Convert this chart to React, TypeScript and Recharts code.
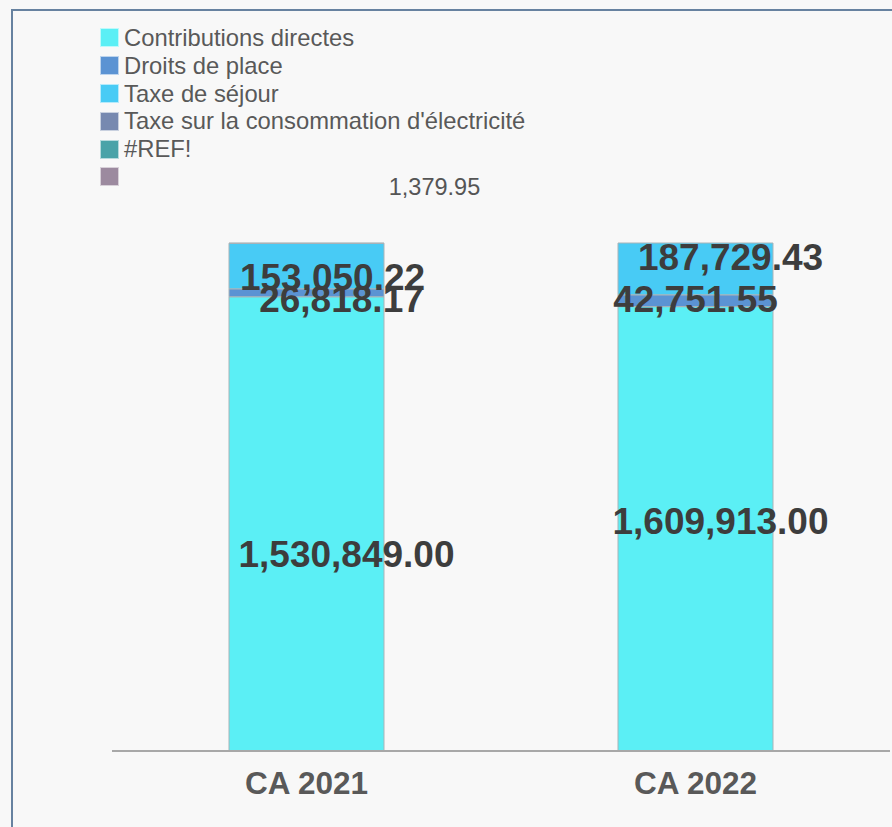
import React from 'react';
import { BarChart, Bar, XAxis, YAxis, LabelList } from 'recharts';

// values (null = no value in the sheet)
const CATEGORIES = ['CA 2021', 'CA 2022'];
const CONTRIBUTIONS = [1530849.0, 1609913.0];
const DROITS_PLACE = [26818.17, 42751.55];
const TAXE_SEJOUR = [153050.22, 187729.43];
const TAXE_ELEC = [1379.95, null];
const REF_ERR = [null, null];
const BLANK = [null, null];

// note: don't use "ref" as a data key, recharts spreads the row into element props
const SERIES = [
  { key: 'contrib', name: 'Contributions directes', color: '#5beff5', values: CONTRIBUTIONS },
  { key: 'droits', name: 'Droits de place', color: '#5b93d3', values: DROITS_PLACE },
  { key: 'sejour', name: 'Taxe de séjour', color: '#48cbf5', values: TAXE_SEJOUR },
  { key: 'elec', name: "Taxe sur la consommation d'électricité", color: '#7789b0', values: TAXE_ELEC },
  { key: 'refErr', name: '#REF!', color: '#4aa3a8', values: REF_ERR },
  { key: 'blank', name: '', color: '#9c8a9f', values: BLANK },
];

const data = CATEGORIES.map((name, i) => {
  const row: Record<string, string | number> = { name };
  SERIES.forEach((s) => {
    row[s.key] = s.values[i] ?? 0;
  });
  return row;
});

// hand-placed label nudges (the labels in the original were dragged around)
const NUDGE: Record<string, [number, number][]> = {
  contrib: [[40, 31], [25, -7]],
  droits: [[35, 7], [0, -1]],
  sejour: [[26, 11], [35, -11]],
  elec: [[128, -56], [0, 0]],
};

const FONT = '"Liberation Sans", Arial, sans-serif';

const fmt = (v: number) =>
  v.toLocaleString('en-US', { minimumFractionDigits: 2, maximumFractionDigits: 2 });

const makeLabel = (key: string, values: (number | null)[]) => (props: any) => {
  const { x, y, width, height, index } = props;
  const raw = values[index];
  if (raw == null) return null;
  const [dx, dy] = (NUDGE[key] || [])[index] || [0, 0];
  const small = key === 'elec';
  return (
    <text
      x={Number(x) + Number(width) / 2 + dx}
      y={Number(y) + Number(height) / 2 + dy}
      textAnchor="middle"
      dominantBaseline="central"
      fontFamily={FONT}
      fontSize={small ? 23.5 : 37}
      fontWeight={small ? 400 : 700}
      fill={small ? '#555555' : '#3d3d3d'}
    >
      {fmt(raw)}
    </text>
  );
};

const LegendBox = () => (
  <div
    style={{
      position: 'absolute',
      left: 100,
      top: 24,
      fontFamily: FONT,
      fontSize: 23.8,
      color: '#595959',
    }}
  >
    {SERIES.map((s) => (
      <div key={s.key} style={{ display: 'flex', alignItems: 'center', height: 27.8 }}>
        <span
          style={{
            display: 'inline-block',
            width: 17,
            height: 17,
            background: s.color,
            border: '1px solid rgba(255,255,255,0.6)',
            marginRight: 5,
          }}
        />
        <span style={{ whiteSpace: 'nowrap' }}>{s.name}</span>
      </div>
    ))}
  </div>
);

export default function App() {
  return (
    <div
      style={{
        position: 'absolute',
        left: 0,
        top: 0,
        width: 892,
        height: 827,
        background: '#f8f8f8',
        overflow: 'hidden',
      }}
    >
      <div
        style={{
          position: 'absolute',
          left: 11,
          top: 9,
          width: 900,
          height: 900,
          borderLeft: '2px solid #6782a0',
          borderTop: '2px solid #6782a0',
        }}
      />
      <div style={{ position: 'absolute', left: 0, top: 0 }}>
        <BarChart
          width={892}
          height={827}
          data={data}
          stackOffset="expand"
          barSize={155}
          margin={{ top: 243, right: 2, bottom: 0, left: 112 }}
        >
          <XAxis
            dataKey="name"
            height={76}
            axisLine={{ stroke: '#a8a8a8', strokeWidth: 2 }}
            tickLine={false}
            tickMargin={15}
            tick={{ fill: '#595959', fontSize: 31.5, fontWeight: 700, fontFamily: FONT }}
          />
          <YAxis hide domain={[0, 1]} />
          {SERIES.map((s) => (
            <Bar
              key={s.key}
              dataKey={s.key}
              name={s.name}
              stackId="a"
              fill={s.color}
              stroke="#a9b4b8"
              strokeWidth={1}
              isAnimationActive={false}
            >
              <LabelList content={makeLabel(s.key, s.values)} />
            </Bar>
          ))}
        </BarChart>
      </div>
      <LegendBox />
    </div>
  );
}
